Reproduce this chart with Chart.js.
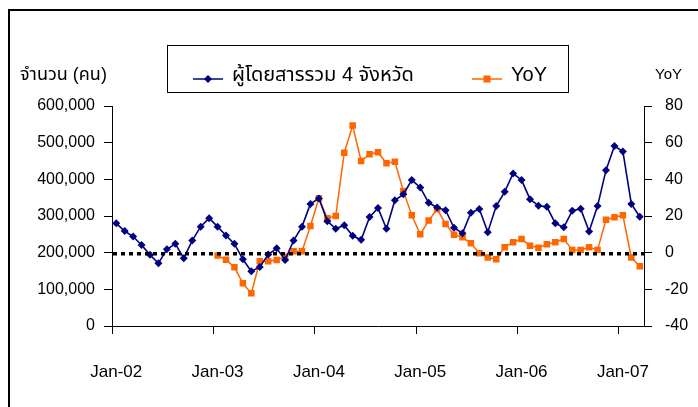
<!DOCTYPE html>
<html>
<head>
<meta charset="utf-8">
<script src="https://cdn.jsdelivr.net/npm/chart.js@4.4.1/dist/chart.umd.min.js"></script>
<style>
  body { margin: 0; background: #fff; }
  #wrap { width: 698px; height: 407px; position: relative; }
</style>
</head>
<body>
<div id="wrap"><canvas id="chart"></canvas></div>
<script>
const FONT = "'Liberation Sans', Arial, 'Noto Sans Thai', 'Noto Sans', sans-serif";

// monthly categories, Jan-02 .. Mar-07
const monthNames = ['Jan', 'Feb', 'Mar', 'Apr', 'May', 'Jun', 'Jul', 'Aug', 'Sep', 'Oct', 'Nov', 'Dec'];
const yearNames = ['02', '03', '04', '05', '06', '07'];
const labels = [];
yearNames.forEach(y => monthNames.forEach(m => labels.push(`${m}-${y}`)));
labels.length = 63;

const passengers = [
  280000, 259000, 244000, 221000, 194000, 171000, 209000, 224000, 185000, 233000, 271000, 294000,
  271000, 247000, 224000, 182000, 149000, 161000, 195000, 212000, 180000, 233000, 271000, 333000,
  348000, 286000, 265000, 275000, 246000, 235000, 297000, 322000, 265000, 343000, 359000, 398000,
  378000, 336000, 323000, 316000, 268000, 253000, 309000, 319000, 256000, 327000, 366000, 416000,
  398000, 346000, 328000, 325000, 280000, 269000, 314000, 320000, 258000, 327000, 425000, 491000,
  476000, 333000, 298000
];

const yoy = [
  null, null, null, null, null, null, null, null, null, null, null, null,
  -1.6, -3.8, -8, -16.7, -22.2, -4.7, -4.7, -4, -2.2, 0.8, 0.8, 14.6,
  29.7, 18.8, 20, 54.5, 69.3, 50, 53.7, 54.8, 48.8, 49.6, 33.7, 20.4,
  10, 17.5, 23.7, 15.7, 9.8, 8.4, 5.1, -0.3, -2.7, -3.6, 2.9, 5.7,
  7.5, 3.8, 2.7, 4.6, 5.7, 7.5, 1.5, 1.5, 2.9, 1.5, 18, 19.3,
  20.4, -2.7, -7.4
];

const seriesNames = ['ผู้โดยสารรวม 4 จังหวัด', 'YoY'];
const leftTitle = 'จำนวน (คน)';
const rightTitle = 'YoY';
const zeroLine = 0;

Chart.defaults.font.family = FONT;
Chart.defaults.color = '#000';

function drawMarker(ctx, style, x, y, r, color) {
  ctx.fillStyle = color;
  ctx.beginPath();
  if (style === 'rectRot') {
    ctx.moveTo(x - r, y); ctx.lineTo(x, y - r); ctx.lineTo(x + r, y); ctx.lineTo(x, y + r);
  } else {
    const s = Math.SQRT1_2 * r;
    ctx.rect(x - s, y - s, 2 * s, 2 * s);
  }
  ctx.closePath();
  ctx.fill();
}

const extras = {
  id: 'extras',
  afterDatasetsDraw(chart) {
    const { ctx, chartArea } = chart;
    const y = chart.scales.y1.getPixelForValue(zeroLine) + 1;
    ctx.save();
    ctx.strokeStyle = '#000';
    ctx.lineWidth = 3.5;
    ctx.setLineDash([4, 4]);
    ctx.beginPath();
    ctx.moveTo(chartArea.left + 1, y);
    ctx.lineTo(chartArea.right, y);
    ctx.stroke();
    ctx.restore();
  },
  afterDraw(chart) {
    const { ctx } = chart;
    ctx.save();
    // outer frame
    ctx.strokeStyle = '#000';
    ctx.lineWidth = 2;
    ctx.strokeRect(9, 10, 900, 600);

    // axis titles
    ctx.fillStyle = '#000';
    ctx.textBaseline = 'alphabetic';
    ctx.textAlign = 'left';
    ctx.font = `18px ${FONT}`;
    ctx.fillText(leftTitle, 20, 80);
    ctx.font = `15px ${FONT}`;
    ctx.fillText(rightTitle, 655, 79);

    // legend
    ctx.lineWidth = 1;
    ctx.strokeRect(167.5, 45.5, 401, 47);
    const items = [
      { x: 193, ds: chart.data.datasets[0], style: 'rectRot', r: 4 },
      { x: 472, ds: chart.data.datasets[1], style: 'rect', r: 5 }
    ];
    ctx.font = `20px ${FONT}`;
    items.forEach(it => {
      ctx.strokeStyle = it.ds.borderColor;
      ctx.lineWidth = 1.5;
      ctx.beginPath();
      ctx.moveTo(it.x, 79);
      ctx.lineTo(it.x + 30, 79);
      ctx.stroke();
      drawMarker(ctx, it.style, it.x + 15, 79, it.r, it.ds.borderColor);
      ctx.fillStyle = '#000';
      ctx.fillText(it.ds.label, it.x + 39, 81);
    });
    ctx.restore();
  }
};

const axisGrid = {
  drawOnChartArea: false,
  drawTicks: true,
  tickLength: 8,
  color: '#000'
};

new Chart(document.getElementById('chart'), {
  type: 'line',
  data: {
    labels,
    datasets: [
      {
        label: seriesNames[0],
        data: passengers,
        yAxisID: 'y',
        borderColor: '#000080',
        backgroundColor: '#000080',
        borderWidth: 1.6,
        pointStyle: 'rectRot',
        pointRadius: 4,
        pointBorderWidth: 0,
        tension: 0
      },
      {
        label: seriesNames[1],
        data: yoy,
        yAxisID: 'y1',
        borderColor: '#FF6600',
        backgroundColor: '#FF6600',
        borderWidth: 1.5,
        pointStyle: 'rect',
        pointRadius: 4.6,
        pointBorderWidth: 0,
        tension: 0
      }
    ]
  },
  plugins: [extras],
  options: {
    responsive: true,
    maintainAspectRatio: false,
    animation: false,
    layout: { padding: { top: 106, left: 0, right: 0, bottom: 0 } },
    plugins: {
      legend: { display: false },
      tooltip: { enabled: false }
    },
    scales: {
      x: {
        type: 'category',
        offset: true,
        grid: {
          offset: true,
          drawOnChartArea: false,
          drawTicks: true,
          tickLength: 8,
          color: ctx => (ctx.index % 12 === 0 ? '#000' : 'rgba(0,0,0,0)')
        },
        border: { color: '#000', width: 1 },
        ticks: {
          autoSkip: false,
          maxRotation: 0,
          padding: 28,
          font: { size: 17 },
          callback: (v, i) => (i % 12 === 0 ? labels[i] : '')
        },
        afterFit: s => { s.height = 81; }
      },
      y: {
        position: 'left',
        min: 0,
        max: 600000,
        grid: axisGrid,
        border: { color: '#000', width: 1 },
        ticks: {
          stepSize: 100000,
          padding: 9,
          font: { size: 16 },
          callback: v => v.toLocaleString('en-US')
        },
        afterFit: s => { s.width = 112; }
      },
      y1: {
        position: 'right',
        min: -40,
        max: 80,
        grid: axisGrid,
        border: { color: '#000', width: 1 },
        ticks: {
          stepSize: 20,
          padding: 13,
          font: { size: 16 }
        },
        afterFit: s => { s.width = 54; }
      }
    }
  }
});
</script>
</body>
</html>
